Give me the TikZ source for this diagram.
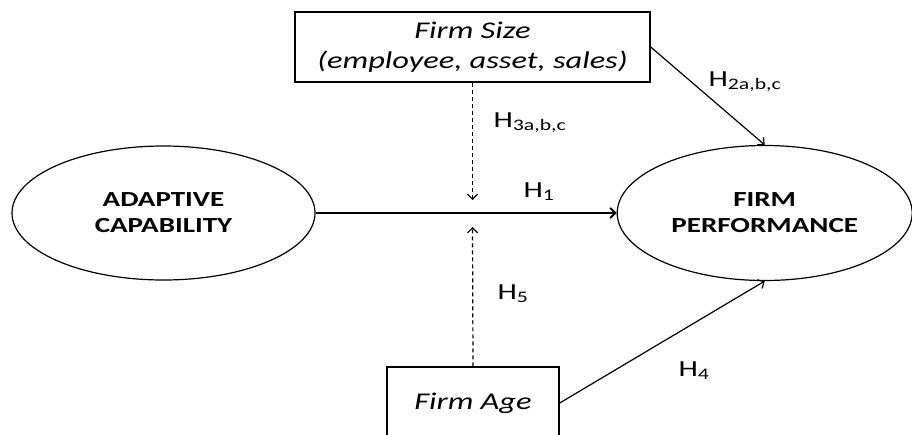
\documentclass[tikz,border=0pt]{standalone}
\usepackage{fontspec}
\setmainfont{Carlito}[FakeStretch=1.35]
\usetikzlibrary{shapes.geometric,positioning,arrows.meta,calc}
\begin{document}
\begin{tikzpicture}[x=1pt,y=-1pt,line width=1.2pt,
    var/.style={ellipse,draw,inner sep=0pt,minimum width=303pt,minimum height=134pt,
      font=\fontsize{21.5}{26}\selectfont\bfseries,align=center},
    ctrl/.style={rectangle,draw,line width=1.4pt,inner sep=0pt,
      font=\fontsize{24}{30}\selectfont\itshape,align=center},
    hyp/.style={anchor=base west,font=\fontsize{23}{28}\selectfont,inner sep=0pt},
    arr/.style={-{Straight Barb[length=5pt,width=10pt]}},
    mod/.style={arr,dash pattern=on 4pt off 3pt}]
 \useasboundingbox (0,0) rectangle (912,434);
 \node[var] (AC) at (163.5,213) {ADAPTIVE\\CAPABILITY};
 \node[var,minimum width=295pt,minimum height=135pt,right=301pt of AC] (FP) {FIRM\\PERFORMANCE};
 \node[ctrl,minimum width=355pt,minimum height=70pt] (FS) at (472.5,47) {Firm Size\\(employee, asset, sales)};
 \node[ctrl,minimum width=172pt,minimum height=72pt] (FA) at (473,403) {Firm Age};
 \coordinate (MID) at (FS.south |- AC.east);
 \coordinate (TOP) at ($(MID)+(0,-13)$);
 \coordinate (BOT) at ($(MID)+(0,14)$);
 \node[hyp] (H1) at (523,197) {H\textsubscript{1}};
 \node[hyp] (H3) at (493,127) {H\textsubscript{3a,b,c}};
 \node[hyp] (H2) at (708,86) {H\textsubscript{2a,b,c}};
 \node[hyp] (H5) at (497,299) {H\textsubscript{5}};
 \node[hyp] (H4) at (678,376) {H\textsubscript{4}};
 \draw[arr,line width=2pt] (AC) -- (FP);
 \draw[arr] (FS.east) -- (FP.north);
 \draw[arr] (FA.east) -- (FP.south);
 \draw[mod] (FS.south) -- (TOP);
 \draw[mod] (FA.north) -- (BOT);
\end{tikzpicture}
\end{document}
